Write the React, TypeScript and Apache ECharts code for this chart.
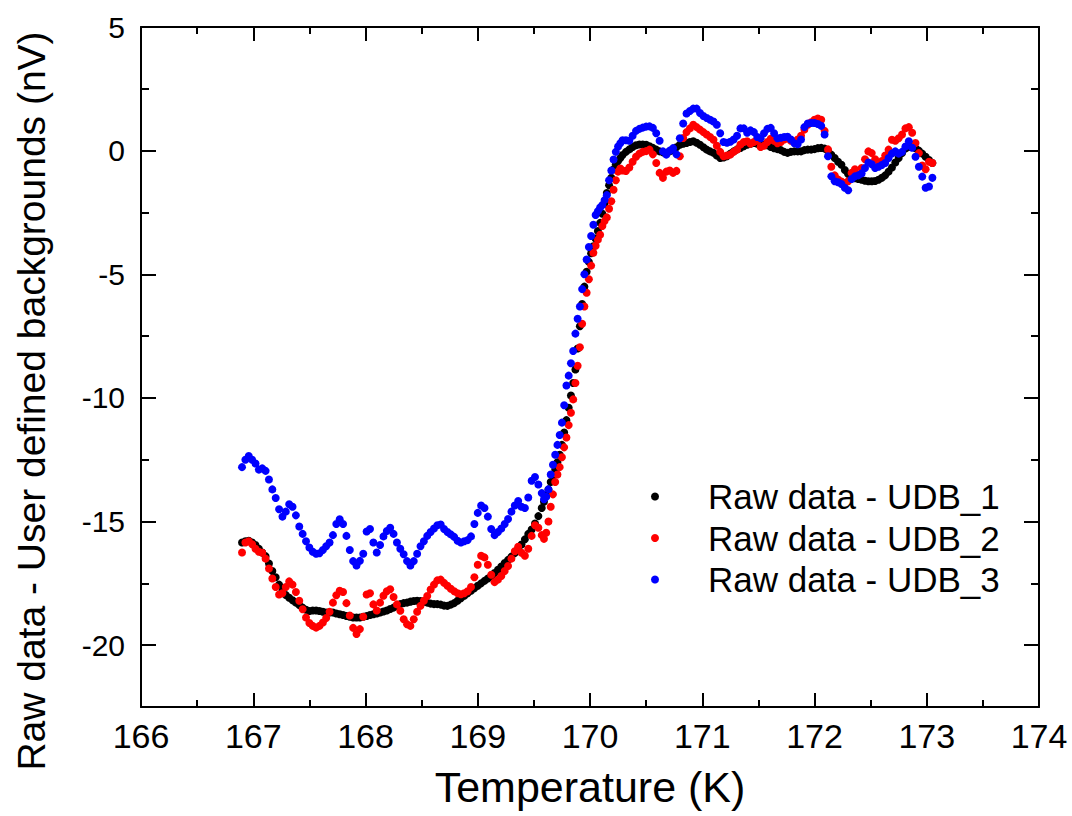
import React, { useEffect, useRef } from 'react';
import * as echarts from 'echarts';

// Temperature (K) at which each point was read
const temps: number[] = [
  166.90, 166.93, 166.96, 166.99, 167.02, 167.05, 167.08, 167.11, 167.14, 167.17,
  167.20, 167.23, 167.26, 167.29, 167.32, 167.35, 167.38, 167.41, 167.44, 167.47,
  167.50, 167.53, 167.56, 167.59, 167.62, 167.65, 167.68, 167.71, 167.74, 167.77,
  167.80, 167.83, 167.86, 167.89, 167.92, 167.95, 167.98, 168.01, 168.04, 168.07,
  168.10, 168.13, 168.16, 168.19, 168.22, 168.25, 168.28, 168.31, 168.34, 168.37,
  168.40, 168.43, 168.46, 168.49, 168.52, 168.55, 168.58, 168.61, 168.64, 168.67,
  168.70, 168.73, 168.76, 168.79, 168.82, 168.85, 168.88, 168.91, 168.94, 168.97,
  169.00, 169.03, 169.06, 169.09, 169.12, 169.15, 169.18, 169.21, 169.24, 169.27,
  169.30, 169.33, 169.36, 169.39, 169.42, 169.45, 169.48, 169.51, 169.54, 169.57,
  169.59, 169.61, 169.63, 169.65, 169.67, 169.69, 169.71, 169.73, 169.75, 169.77,
  169.79, 169.81, 169.83, 169.85, 169.87, 169.89, 169.91, 169.93, 169.95, 169.97,
  169.99, 170.01, 170.03, 170.05, 170.07, 170.09, 170.11, 170.13, 170.15, 170.17,
  170.19, 170.21, 170.23, 170.25, 170.27, 170.29,
  170.32, 170.35, 170.38, 170.41, 170.44, 170.47, 170.50, 170.53, 170.56, 170.59,
  170.62, 170.65, 170.68, 170.71, 170.74, 170.77, 170.80, 170.83, 170.86, 170.89,
  170.92, 170.95, 170.98, 171.01, 171.04, 171.07, 171.10, 171.13, 171.16, 171.19,
  171.22, 171.25, 171.28, 171.31, 171.34, 171.37, 171.40, 171.43, 171.46, 171.49,
  171.52, 171.55, 171.58, 171.61, 171.64, 171.67, 171.70, 171.73, 171.76, 171.79,
  171.82, 171.85, 171.88, 171.91, 171.94, 171.97, 172.00, 172.03, 172.06, 172.09,
  172.12, 172.15, 172.18, 172.21, 172.24, 172.27, 172.30, 172.33, 172.36, 172.39,
  172.42, 172.45, 172.48, 172.51, 172.54, 172.57, 172.60, 172.63, 172.66, 172.69,
  172.72, 172.75, 172.78, 172.81, 172.84, 172.87, 172.90, 172.93, 172.96, 172.99,
  173.02, 173.05,
];

// Raw data - UDB_1 (black), nV
const udb1: number[] = [
  -15.85, -15.8, -15.78, -15.85, -15.95, -16.1, -16.25, -16.4, -16.7, -17.0,
  -17.25, -17.55, -17.8, -17.97, -18.08, -18.18, -18.28, -18.38, -18.48, -18.57,
  -18.62, -18.6, -18.6, -18.62, -18.65, -18.68, -18.68, -18.68, -18.72, -18.75,
  -18.78, -18.82, -18.85, -18.88, -18.88, -18.88, -18.85, -18.82, -18.78, -18.75,
  -18.72, -18.68, -18.64, -18.6, -18.54, -18.48, -18.4, -18.34, -18.3, -18.28,
  -18.24, -18.21, -18.2, -18.21, -18.24, -18.28, -18.32, -18.34, -18.34, -18.36,
  -18.4, -18.41, -18.36, -18.3, -18.2, -18.1, -18.0, -17.9, -17.8, -17.7,
  -17.6, -17.5, -17.4, -17.3, -17.2, -17.08, -16.95, -16.82, -16.68, -16.55,
  -16.42, -16.27, -16.1, -15.93, -15.72, -15.5, -15.32, -15.08, -14.78, -14.45,
  -14.2, -13.95, -13.7, -13.4, -13.15, -12.9, -12.6, -12.3, -11.9, -11.4,
  -10.9, -10.4, -9.9, -9.4, -8.85, -8.0, -7.1, -6.2, -5.5, -4.9,
  -4.5, -4.15, -3.87, -3.55, -3.25, -2.92, -2.55, -2.15, -1.71, -1.4,
  -1.1, -0.75, -0.55, -0.42, -0.3, -0.18,
  -0.05, 0.05, 0.15, 0.22, 0.25, 0.25, 0.24, 0.18, 0.11, 0.04,
  -0.03, -0.07, -0.09, -0.03, 0.04, 0.14, 0.24, 0.28, 0.31, 0.35,
  0.38, 0.32, 0.24, 0.14, 0.04, -0.03, -0.09, -0.2, -0.3, -0.28,
  -0.23, -0.12, -0.03, 0.05, 0.11, 0.18, 0.24, 0.28, 0.31, 0.28,
  0.24, 0.24, 0.22, 0.15, 0.1, 0.06, 0.02, -0.05, -0.09, -0.05,
  -0.03, -0.03, -0.03, 0.02, 0.04, 0.04, 0.06, 0.1, 0.11, 0.08,
  0.0, -0.16, -0.3, -0.45, -0.57, -0.78, -0.95, -1.05, -1.12, -1.15,
  -1.18, -1.22, -1.24, -1.24, -1.23, -1.18, -1.1, -1.0, -0.85, -0.68,
  -0.48, -0.3, -0.1, 0.08, 0.15, 0.17, 0.1, 0.0, -0.12, -0.25,
  -0.38, -0.5,
];

// Raw data - UDB_2 (red), nV
const udb2: number[] = [
  -16.25, -15.85, -15.8, -15.92, -16.1, -16.22, -16.26, -16.5, -16.9, -17.3,
  -17.65, -17.95, -17.9, -17.65, -17.42, -17.55, -17.85, -18.2, -18.55, -18.88,
  -19.1, -19.22, -19.29, -19.22, -19.08, -18.9, -18.65, -18.28, -17.98, -17.8,
  -17.85, -18.3, -18.8, -19.3, -19.55, -19.35, -18.85, -17.95, -17.9, -18.35,
  -18.6, -18.28, -18.0, -17.82, -17.74, -18.05, -18.35, -18.61, -18.95, -19.15,
  -19.22, -18.95, -18.65, -18.41, -18.2, -18.01, -17.75, -17.55, -17.38, -17.35,
  -17.48, -17.6, -17.72, -17.82, -17.9, -17.94, -17.9, -17.82, -17.65, -17.25,
  -16.75, -16.38, -16.45, -16.75, -17.15, -17.45, -17.35, -17.2, -17.0, -16.8,
  -16.5, -16.2, -16.02, -16.26, -16.38, -16.1, -15.58, -15.15, -15.25, -15.55,
  -15.7, -15.45, -15.0, -14.4, -13.9, -13.4, -13.1, -12.8, -12.4, -12.0,
  -11.6, -11.1, -10.6, -10.06, -9.4, -8.7, -7.95, -7.0, -6.3, -5.75,
  -5.2, -4.65, -4.13, -3.85, -3.6, -3.4, -3.05, -2.85, -2.7, -2.35,
  -2.05, -1.58, -1.2, -0.85, -0.72, -0.8,
  -0.82, -0.68, -0.45, -0.25, -0.12, -0.05, -0.02, 0.04, -0.15, -0.5,
  -0.9, -1.1, -0.85, -0.8, -0.9, -0.82, -0.23, 0.51, 0.75, 0.9,
  1.05, 0.95, 0.85, 0.75, 0.65, 0.55, 0.44, 0.2, -0.05, -0.23,
  -0.2, -0.16, -0.05, 0.04, 0.25, 0.35, 0.38, 0.28, 0.35, 0.4,
  0.15, 0.2, 0.35, 0.48, 0.4, 0.3, 0.35, 0.45, 0.5, 0.4,
  0.35, 0.45, 0.6, 0.85, 1.05, 1.15, 1.25, 1.3, 1.25, 0.8,
  0.05, -0.65, -1.0, -1.17, -1.25, -1.31, -1.24, -0.9, -0.75, -0.97,
  -0.7, -0.35, -0.03, -0.1, -0.35, -0.6, -0.42, -0.2, 0.04, 0.44,
  0.4, 0.5, 0.65, 0.9, 0.95, 0.72, 0.31, -0.1, -0.6, -0.75,
  -0.45, -0.5,
];

// Raw data - UDB_3 (blue), nV
const udb3: number[] = [
  -12.8, -12.5, -12.35, -12.5, -12.65, -12.9, -12.85, -12.95, -13.3, -13.7,
  -14.05, -14.5, -14.8, -14.6, -14.3, -14.4, -14.75, -15.2, -15.5, -15.8,
  -16.05, -16.22, -16.3, -16.28, -16.15, -16.0, -15.85, -15.55, -15.1, -14.91,
  -15.1, -15.58, -16.15, -16.6, -16.78, -16.59, -16.3, -15.4, -15.3, -15.85,
  -16.25, -15.95, -15.6, -15.38, -15.25, -15.5, -15.85, -16.1, -16.32, -16.6,
  -16.78, -16.6, -16.3, -16.0, -15.8, -15.58, -15.42, -15.28, -15.15, -15.12,
  -15.3, -15.42, -15.52, -15.62, -15.78, -15.85, -15.8, -15.75, -15.6, -15.1,
  -14.65, -14.35, -14.45, -14.8, -15.3, -15.55, -15.42, -15.28, -15.1, -14.9,
  -14.6, -14.35, -14.17, -14.4, -14.45, -14.03, -13.35, -13.2, -13.5, -13.85,
  -14.1, -14.0, -13.7, -13.1, -12.7, -12.3, -11.9, -11.5, -11.0, -10.3,
  -9.5, -9.1, -8.6, -8.1, -7.4, -6.8, -6.3, -5.6, -5.0, -4.4,
  -3.9, -3.45, -3.0, -2.6, -2.45, -2.3, -2.2, -2.0, -1.8, -1.2,
  -0.8, -0.36, -0.05, 0.17, 0.3, 0.42,
  0.42, 0.4, 0.6, 0.8, 0.88, 0.93, 0.97, 0.98, 0.92, 0.7,
  0.4, -0.03, -0.16, 0.0, 0.1, -0.15, 0.5, 1.1, 1.5, 1.6,
  1.7, 1.7, 1.52, 1.4, 1.32, 1.25, 1.18, 1.05, 0.7, 0.35,
  0.32, 0.36, 0.45, 0.6, 0.9, 0.9, 0.72, 0.82, 0.75, 0.55,
  0.5, 0.7, 0.88, 0.92, 0.7, 0.5, 0.52, 0.55, 0.56, 0.45,
  0.3, 0.26, 0.45, 0.95, 1.1, 1.12, 1.12, 1.08, 1.0, 0.65,
  -0.23, -1.04, -1.24, -1.28, -1.35, -1.5, -1.6, -1.15, -1.04, -1.0,
  -0.92, -0.7, -0.48, -0.55, -0.7, -0.65, -0.58, -0.5, -0.3, -0.12,
  -0.03, -0.12, -0.05, 0.17, 0.38, 0.12, -0.25, -0.65, -1.05, -1.5,
  -1.45, -1.1,
];

const seriesNames = ['Raw data - UDB_1', 'Raw data - UDB_2', 'Raw data - UDB_3'];
const seriesColors = ['#000000', '#ff0000', '#0000ff'];
const seriesValues = [udb1, udb2, udb3];

const yMajorTicks = [-20, -15, -10, -5, 0, 5];
const yMinorTicks = [-17.5, -12.5, -7.5, -2.5, 2.5];

const xTitle = 'Temperature (K)';
const yTitle = 'Raw data - User defined backgrounds (nV)';

const FONT = '"Liberation Sans", Arial, Helvetica, sans-serif';

export default function App() {
  const ref = useRef<HTMLDivElement>(null);

  useEffect(() => {
    if (!ref.current) return;
    const chart = echarts.init(ref.current, null, { renderer: 'svg' });

    const black = { color: '#000000', width: 2 };
    const axisLineOn = { show: true, onZero: false, lineStyle: black };
    const axisLineOff = { show: false, onZero: false };

    const xCommon: any = {
      type: 'value',
      min: 166,
      max: 174,
      interval: 1,
      splitLine: { show: false },
      axisLine: axisLineOn,
      axisTick: { show: true, inside: true, length: 14, lineStyle: black },
      minorTick: { show: true, splitNumber: 2, length: 7, lineStyle: black },
      minorSplitLine: { show: false },
    };

    const yCommon: any = {
      type: 'value',
      min: -22.5,
      max: 5,
      interval: 2.5,
      splitLine: { show: false },
    };

    const majorTick = { show: true, inside: true, length: 15, lineStyle: black, customValues: yMajorTicks };
    const minorTick = { show: true, inside: true, length: 8, lineStyle: black, customValues: yMinorTicks };

    chart.setOption({
      animation: false,
      backgroundColor: '#ffffff',
      textStyle: { fontFamily: FONT, color: '#000' },
      grid: {
        left: 141,
        right: 33,
        top: 27,
        bottom: 109,
        containLabel: false,
        outerBoundsMode: 'none',
      },
      xAxis: [
        {
          ...xCommon,
          position: 'bottom',
          name: xTitle,
          nameLocation: 'middle',
          nameGap: 58,
          nameTextStyle: { fontSize: 43, color: '#000', fontFamily: FONT },
          axisLabel: { show: true, fontSize: 34, color: '#000', fontFamily: FONT, margin: 12 },
        },
        {
          ...xCommon,
          position: 'top',
          axisLabel: { show: false },
        },
      ],
      yAxis: [
        {
          ...yCommon,
          position: 'left',
          axisLine: axisLineOn,
          axisTick: majorTick,
          axisLabel: {
            show: true,
            customValues: yMajorTicks,
            fontSize: 30,
            color: '#000',
            fontFamily: FONT,
            margin: 16,
          },
        },
        {
          ...yCommon,
          position: 'left',
          axisLine: axisLineOff,
          axisTick: minorTick,
          axisLabel: { show: false },
        },
        {
          ...yCommon,
          position: 'right',
          axisLine: axisLineOn,
          axisTick: majorTick,
          axisLabel: { show: false },
        },
        {
          ...yCommon,
          position: 'right',
          axisLine: axisLineOff,
          axisTick: minorTick,
          axisLabel: { show: false },
        },
      ],
      legend: {
        show: true,
        orient: 'vertical',
        left: 651,
        top: 479,
        padding: 0,
        itemWidth: 96,
        itemHeight: 8,
        itemGap: 6.5,
        icon: 'circle',
        selectedMode: false,
        data: seriesNames,
        textStyle: { fontSize: 35, lineHeight: 35, color: '#000', fontFamily: FONT },
      },
      graphic: [
        {
          type: 'text',
          x: 31,
          y: 401,
          rotation: Math.PI / 2,
          style: {
            text: yTitle,
            fontSize: 39,
            fontFamily: FONT,
            fill: '#000',
            align: 'center',
            verticalAlign: 'middle',
          },
        },
      ],
      series: seriesNames.map((name, k) => ({
        name,
        type: 'scatter',
        xAxisIndex: 0,
        yAxisIndex: 0,
        symbol: 'circle',
        symbolSize: 8,
        itemStyle: { color: seriesColors[k], opacity: 1 },
        emphasis: { disabled: true },
        z: 2 + k,
        data: temps.map((t, i) => [t, seriesValues[k][i]]),
      })),
    });

    return () => {
      chart.dispose();
    };
  }, []);

  return (
    <div
      ref={ref}
      style={{ position: 'absolute', left: 0, top: 0, width: 1072, height: 816 }}
    />
  );
}
